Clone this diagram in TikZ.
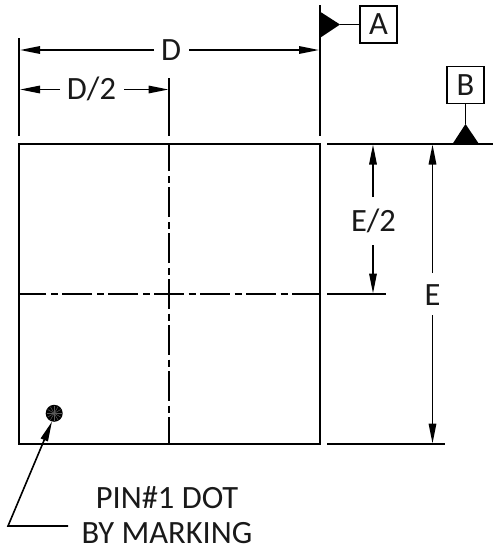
\documentclass[tikz,border=0pt]{standalone}
\usepackage{fontspec}
\setmainfont{Carlito}
\usetikzlibrary{arrows.meta}
\definecolor{mygray}{RGB}{90,90,90}
\newcommand*{\mytextstyle}{\fontsize{32.5}{34}\selectfont\color{black!90}}
\tikzset{
   outline/.style    = {line width=1.6pt, black},
   thinline/.style   = {line width=1.6pt, black},
   centerline/.style = {line width=1.6pt, black, dash pattern=on 30pt off 4.5pt on 7pt off 4.5pt, dash phase=15pt},
   dimarrow/.style   = {line width=1.6pt, -{Triangle[length=20pt,width=7.5pt]}},
   label/.style      = {font=\mytextstyle, inner sep=0pt},
   datumbox/.style   = {draw, line width=1.6pt, minimum size=37pt, inner sep=0pt, font=\mytextstyle}
}
\begin{document}
\begin{tikzpicture}[x=1pt,y=-1pt]
   \useasboundingbox (0,0) rectangle (493,552);

   % package outline
   \draw[outline] (19.2,144) rectangle (319.8,444);

   % center lines
   \coordinate (mid) at (169.2,294);
   \draw[centerline] (mid) -- (19.2,294);
   \draw[centerline] (mid) -- (319.8,294);
   \draw[centerline] (mid) -- (169.2,144);
   \draw[centerline] (mid) -- (169.2,444);

   % extension lines
   \draw[thinline] (19.2,38) -- (19.2,136);
   \draw[thinline] (319.8,5) -- (319.8,136);
   \draw[thinline] (169.2,78) -- (169.2,136);
   \draw[thinline] (327,144) -- (493,144);
   \draw[thinline] (327,294) -- (386,294);
   \draw[thinline] (327,444) -- (445,444);

   % dimension D
   \node[label] (dimD) at (171,50) {D};
   \coordinate (dimDl) at (154,50);
   \coordinate (dimDr) at (189,50);
   \draw[dimarrow] (dimDl) -- (20,50);
   \draw[dimarrow] (dimDr) -- (319,50);

   % dimension D/2
   \node[label] (dimDhalf) at (91.5,89) {D/2};
   \coordinate (dimDhalfl) at (60,89.5);
   \coordinate (dimDhalfr) at (124,89.5);
   \draw[dimarrow] (dimDhalfl) -- (20,89.5);
   \draw[dimarrow] (dimDhalfr) -- (168.5,89.5);

   % dimension E/2
   \node[label] (dimEhalf) at (373.5,221) {E/2};
   \coordinate (dimEhalft) at (373,197);
   \coordinate (dimEhalfb) at (373,245);
   \draw[dimarrow] (dimEhalft) -- (373,144.5);
   \draw[dimarrow] (dimEhalfb) -- (373,293.5);

   % dimension E
   \node[label] (dimE) at (432.5,295) {E};
   \coordinate (dimEt) at (432.5,273);
   \coordinate (dimEb) at (432.5,315);
   \draw[dimarrow] (dimEt) -- (432.5,144.5);
   \draw[dimarrow] (dimEb) -- (432.5,443.5);

   % datum A
   \node[datumbox] (boxA) at (378.5,24.5) {A};
   \coordinate (tipA) at (340,24.5);
   \fill (319.8,11.5) -- (tipA) -- (319.8,38) -- cycle;
   \draw[thinline] (tipA) -- (boxA);

   % datum B
   \node[datumbox] (boxB) at (465.5,85) {B};
   \coordinate (tipB) at (465.5,124);
   \fill (452.5,144) -- (tipB) -- (479,144) -- cycle;
   \draw[thinline] (tipB) -- (boxB);

   % pin 1 dot
   \fill[black] (54.2,413.3) circle (8.5);
   \foreach \ang in {0,30,...,330}{
      \draw[mygray, line width=0.5pt] (54.2,413.3) -- ++(\ang:7.5);
   }
   \coordinate (dotedge) at (52,421.5);
   \coordinate (leaderknee) at (8,526);
   \coordinate (leaderend) at (68,526);
   \draw[dimarrow] (leaderend) -- (leaderknee) -- (dotedge);

   \node[label] (pinA) at (167,498) {PIN\#1 DOT};
   \node[label] (pinB) at (167,533) {BY MARKING};
\end{tikzpicture}
\end{document}
